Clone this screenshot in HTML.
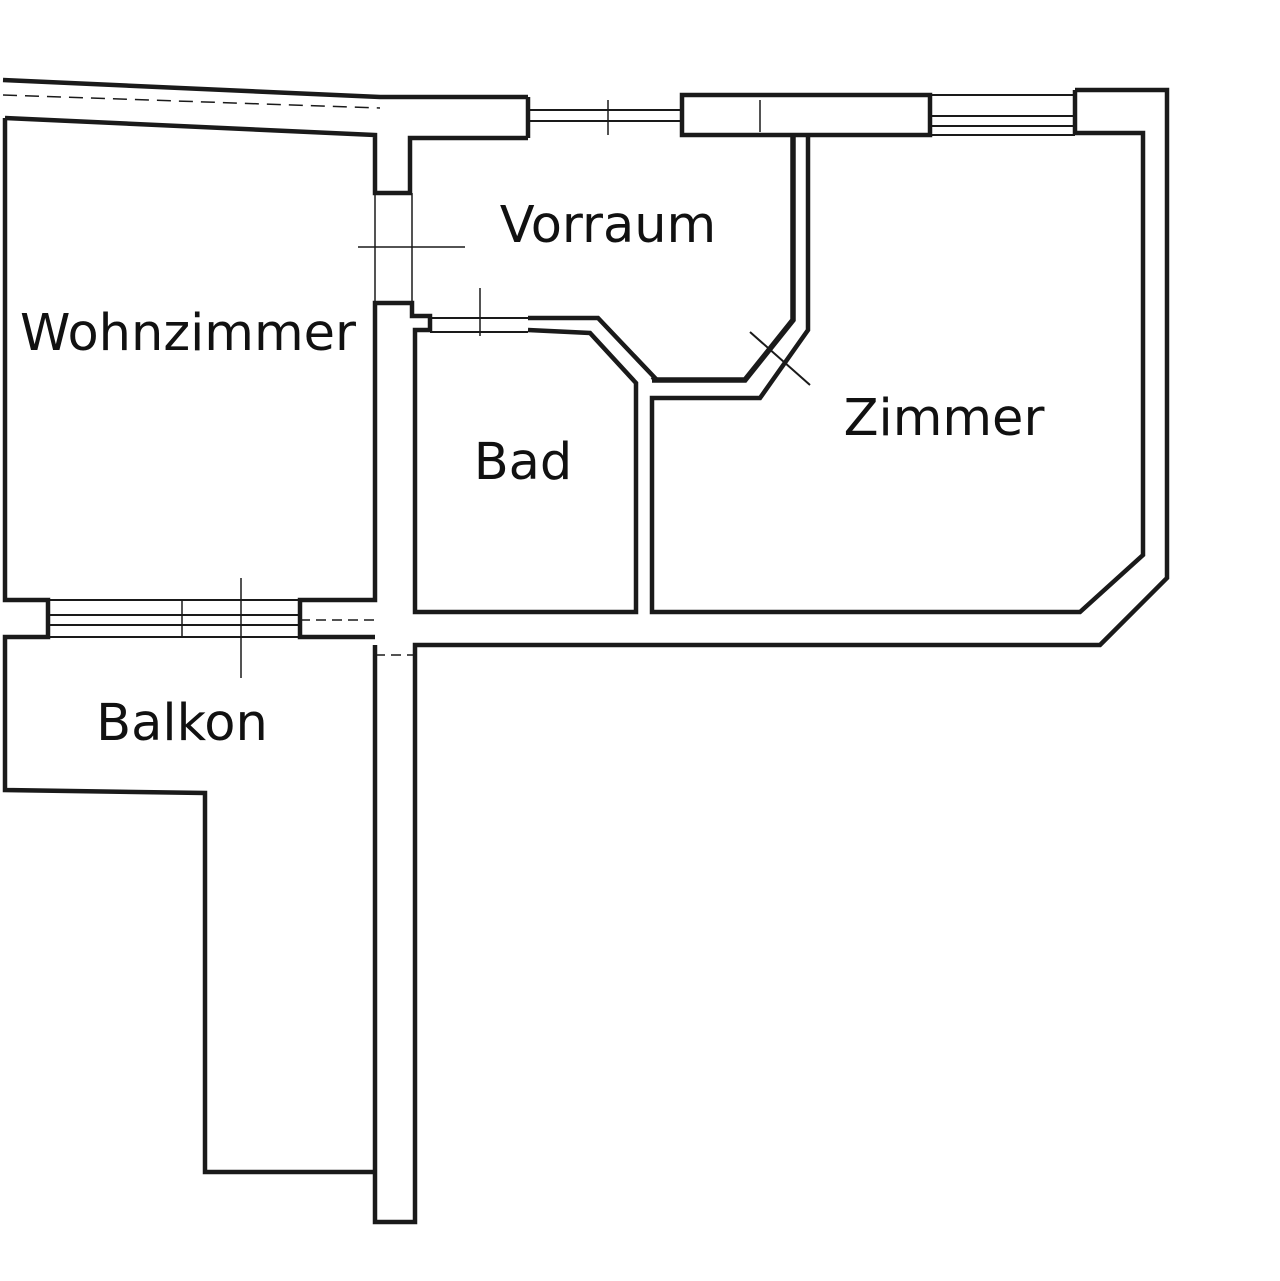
<!DOCTYPE html>
<html><head><meta charset="utf-8"><style>
html,body{margin:0;padding:0;background:#fff}
svg{display:block}
text{font-family:"DejaVu Sans","Liberation Sans",sans-serif;font-size:51px;fill:#111}
</style></head><body>
<svg width="1280" height="1281" viewBox="0 0 1280 1281" xmlns="http://www.w3.org/2000/svg">
<g fill="none" stroke="#1a1a1a" stroke-width="4.5" stroke-linejoin="miter">
<path d="M3,80 L380,97 L528,97"/>
<path d="M5,118 L375,135 L375,193 L410,193 L410,138 L528,138"/>
<path d="M3,95 L380,108" stroke-width="1.5" stroke-dasharray="14,8"/>
<line x1="528" y1="97" x2="528" y2="138"/>
<line x1="528" y1="110" x2="680" y2="110" stroke-width="2"/>
<line x1="528" y1="121" x2="680" y2="121" stroke-width="2"/>
<line x1="608" y1="100" x2="608" y2="135" stroke-width="1.5"/>
<rect x="682" y="95" width="248" height="40"/>
<line x1="760" y1="100" x2="760" y2="132" stroke-width="1.5"/>
<line x1="930" y1="95" x2="1075" y2="95" stroke-width="2"/>
<line x1="930" y1="116" x2="1075" y2="116" stroke-width="2"/>
<line x1="930" y1="126" x2="1075" y2="126" stroke-width="2"/>
<line x1="930" y1="135" x2="1075" y2="135" stroke-width="2"/>
<path d="M1075,90 L1167,90 L1167,578 L1100,645 L415,645 L415,1222 L375,1222 L375,645"/>
<path d="M1075,90 L1075,133 L1143,133 L1143,555 L1080,612 L652,612 L652,398 L760,398 L808,330 L808,135"/>
<path d="M793,135 L793,320 L745,380 L652,380" stroke-width="5.5"/>
<path d="M528,318 L598,318 L655,378 L652,380"/>
<path d="M528,330 L590,333 L636,383 L636,612 L415,612 L415,330 L430,330 L430,316 L412,316 L412,303 L375,303 L375,600 L300,600 L300,637 L375,637"/>
<line x1="430" y1="318" x2="528" y2="318" stroke-width="2"/>
<line x1="430" y1="332" x2="528" y2="332" stroke-width="2"/>
<line x1="480" y1="288" x2="480" y2="336" stroke-width="1.5"/>
<line x1="375" y1="193" x2="375" y2="303" stroke-width="1.5"/>
<line x1="412" y1="193" x2="412" y2="303" stroke-width="1.5"/>
<line x1="358" y1="247" x2="465" y2="247" stroke-width="1.5"/>
<line x1="750" y1="332" x2="810" y2="385" stroke-width="2"/>
<path d="M5,118 L5,600 L48,600 L48,637 L5,637 L5,790 L205,793 L205,1172 L375,1172"/>
<line x1="48" y1="600" x2="300" y2="600" stroke-width="2"/>
<line x1="48" y1="615" x2="300" y2="615" stroke-width="2"/>
<line x1="48" y1="625" x2="300" y2="625" stroke-width="2"/>
<line x1="48" y1="637" x2="300" y2="637" stroke-width="2"/>
<line x1="182" y1="600" x2="182" y2="637" stroke-width="1.5"/>
<line x1="241" y1="578" x2="241" y2="678" stroke-width="1.5"/>
<line x1="300" y1="620" x2="375" y2="620" stroke-width="1.5" stroke-dasharray="10,6"/>
<line x1="375" y1="655" x2="415" y2="655" stroke-width="1.5" stroke-dasharray="10,6"/>
</g>
<text x="608" y="242" text-anchor="middle">Vorraum</text>
<text x="188" y="350" text-anchor="middle">Wohnzimmer</text>
<text x="523" y="479" text-anchor="middle">Bad</text>
<text x="944" y="435" text-anchor="middle">Zimmer</text>
<text x="182" y="740" text-anchor="middle">Balkon</text>
</svg>
</body></html>
